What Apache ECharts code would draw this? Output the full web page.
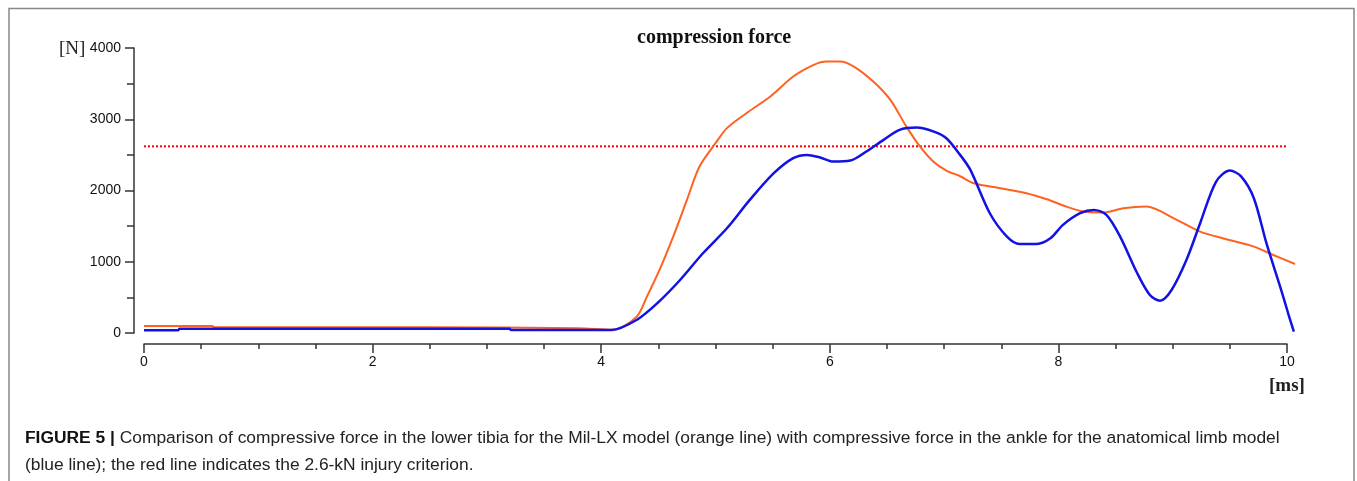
<!DOCTYPE html>
<html>
<head>
<meta charset="utf-8">
<title>compression force</title>
<script src="https://cdn.jsdelivr.net/npm/echarts@6/dist/echarts.min.js"></script>
<style>
  html, body { margin: 0; padding: 0; background: #fff; }
  #chart { width: 1357px; height: 481px; }
</style>
</head>
<body>
<div id="chart"></div>
<script>
// time [ms] and force [N]
const orangeTime = [0, 0.6, 0.61, 2.5, 3.8, 4.1, 4.31, 4.4, 4.51, 4.63, 4.75, 4.86, 5.0, 5.1, 5.27, 5.48, 5.68, 5.86, 5.97, 6.09, 6.21, 6.38, 6.53, 6.67, 6.79, 6.91, 7.02, 7.14, 7.26, 7.49, 7.72, 7.9, 8.07, 8.22, 8.39, 8.57, 8.77, 9.01, 9.24, 9.47, 9.71, 9.88, 10.07]
const orangeForce = [100, 100, 80, 80, 65, 45, 229, 510, 885, 1353, 1868, 2336, 2664, 2875, 3085, 3319, 3600, 3764, 3810, 3810, 3740, 3530, 3272, 2897, 2616, 2400, 2280, 2200, 2102, 2032, 1962, 1877, 1774, 1704, 1690, 1751, 1774, 1610, 1423, 1316, 1212, 1095, 969]

const blueTime = [0, 0.3, 0.31, 3.2, 3.21, 4.09, 4.31, 4.49, 4.69, 4.89, 5.1, 5.3, 5.51, 5.68, 5.8, 5.91, 6.03, 6.18, 6.32, 6.47, 6.61, 6.76, 6.91, 7.02, 7.14, 7.23, 7.4, 7.55, 7.66, 7.81, 7.93, 8.04, 8.19, 8.31, 8.42, 8.54, 8.69, 8.8, 8.89, 8.99, 9.12, 9.24, 9.38, 9.5, 9.6, 9.71, 9.82, 9.94, 10.01, 10.06]
const blueForce = [40, 40, 60, 60, 42, 42, 183, 417, 744, 1119, 1470, 1868, 2243, 2454, 2500, 2467, 2406, 2420, 2547, 2711, 2851, 2884, 2827, 2734, 2500, 2289, 1681, 1353, 1250, 1250, 1330, 1517, 1681, 1728, 1657, 1353, 838, 534, 454, 604, 1025, 1541, 2125, 2280, 2195, 1892, 1260, 650, 277, 18]

const limitTime = [0, 10]
const limitForce = [2620, 2620]

const xTicks = [0, 2, 4, 6, 8, 10]
const yTicks = [0, 1000, 2000, 3000, 4000]

// the traces run a little past 10 ms, so the data grid is a bit wider than the drawn axis
const dataEnd = 10.08

const zip = (xs, ys) => xs.map((x, i) => [x, ys[i]])

const chart = echarts.init(document.getElementById('chart'), null, { renderer: 'canvas' })

const axisColor = '#333'
const axisText = { color: '#111', fontFamily: 'Liberation Sans', fontSize: 14 }
const pxPerMs = 114.3
const plotLeft = 144

chart.setOption({
  backgroundColor: '#fff',
  animation: false,
  title: {
    text: 'compression force',
    left: 632,
    top: 23,
    textStyle: { fontFamily: 'Liberation Serif', fontWeight: 'bold', fontSize: 20, color: '#111' },
  },
  grid: [
    // data grid
    { left: plotLeft, right: 1357 - plotLeft - dataEnd * pxPerMs, top: 48, bottom: 148 },
    // axis grid
    { left: plotLeft, right: 1357 - plotLeft - xTicks[xTicks.length - 1] * pxPerMs, top: 48, bottom: 148 },
  ],
  xAxis: [
    {
      gridIndex: 0,
      type: 'value',
      min: 0,
      max: dataEnd,
      show: false,
    },
    {
      gridIndex: 1,
      type: 'value',
      min: xTicks[0],
      max: xTicks[xTicks.length - 1],
      interval: 2,
      offset: 11,
      axisLine: { show: true, onZero: false, lineStyle: { color: axisColor, width: 1.5 } },
      axisTick: { show: true, length: 9, lineStyle: { color: axisColor, width: 1.5 } },
      minorTick: { show: true, splitNumber: 4, length: 5, lineStyle: { color: axisColor, width: 1.5 } },
      axisLabel: Object.assign({ margin: 11 }, axisText),
      splitLine: { show: false },
    },
  ],
  yAxis: [
    {
      gridIndex: 0,
      type: 'value',
      min: yTicks[0],
      max: yTicks[yTicks.length - 1],
      show: false,
    },
    {
      gridIndex: 1,
      type: 'value',
      min: yTicks[0],
      max: yTicks[yTicks.length - 1],
      interval: 1000,
      offset: 10,
      axisLine: { show: true, onZero: false, lineStyle: { color: axisColor, width: 1.5 } },
      axisTick: { show: true, length: 9, lineStyle: { color: axisColor, width: 1.5 } },
      minorTick: { show: true, splitNumber: 2, length: 7, lineStyle: { color: axisColor, width: 1.5 } },
      axisLabel: Object.assign({ margin: 13, formatter: (v) => String(v) }, axisText),
      splitLine: { show: false },
    },
  ],
  graphic: [
    {
      type: 'rect',
      shape: { x: 9, y: 8.5, width: 1345, height: 490 },
      style: { fill: 'none', stroke: '#888', lineWidth: 1.5 },
      silent: true,
    },
    {
      type: 'text',
      left: 59,
      top: 40,
      style: { text: '[N]', fontFamily: 'Liberation Serif', fontSize: 19, fill: '#222' },
    },
    {
      type: 'text',
      left: 1269,
      top: 377,
      style: { text: '[ms]', fontFamily: 'Liberation Serif', fontWeight: 'bold', fontSize: 19, fill: '#222' },
    },
    {
      type: 'text',
      left: 25,
      top: 430,
      style: {
        text: '{b|FIGURE 5 | }Comparison of compressive force in the lower tibia for the Mil-LX model (orange line) with compressive force in the ankle for the anatomical limb model',
        fontFamily: 'Liberation Sans',
        fontSize: 17.4,
        fill: '#222',
        rich: { b: { fontFamily: 'Liberation Sans', fontWeight: 'bold', fontSize: 17.4, fill: '#111' } },
      },
    },
    {
      type: 'text',
      left: 25,
      top: 457,
      style: {
        text: '(blue line); the red line indicates the 2.6-kN injury criterion.',
        fontFamily: 'Liberation Sans',
        fontSize: 17.4,
        fill: '#222',
      },
    },
  ],
  series: [
    {
      name: 'criterion',
      type: 'line',
      xAxisIndex: 0,
      yAxisIndex: 0,
      data: zip(limitTime, limitForce),
      symbol: 'none',
      lineStyle: { color: '#ff0000', width: 2, type: 'dotted' },
      z: 1,
    },
    {
      name: 'Mil-LX',
      type: 'line',
      xAxisIndex: 0,
      yAxisIndex: 0,
      data: zip(orangeTime, orangeForce),
      symbol: 'none',
      smooth: 0.3,
      lineStyle: { color: '#ff6220', width: 2 },
      z: 2,
    },
    {
      name: 'anatomical',
      type: 'line',
      xAxisIndex: 0,
      yAxisIndex: 0,
      data: zip(blueTime, blueForce),
      symbol: 'none',
      smooth: 0.3,
      lineStyle: { color: '#1212e2', width: 2.5 },
      z: 3,
    },
  ],
})
</script>
</body>
</html>
